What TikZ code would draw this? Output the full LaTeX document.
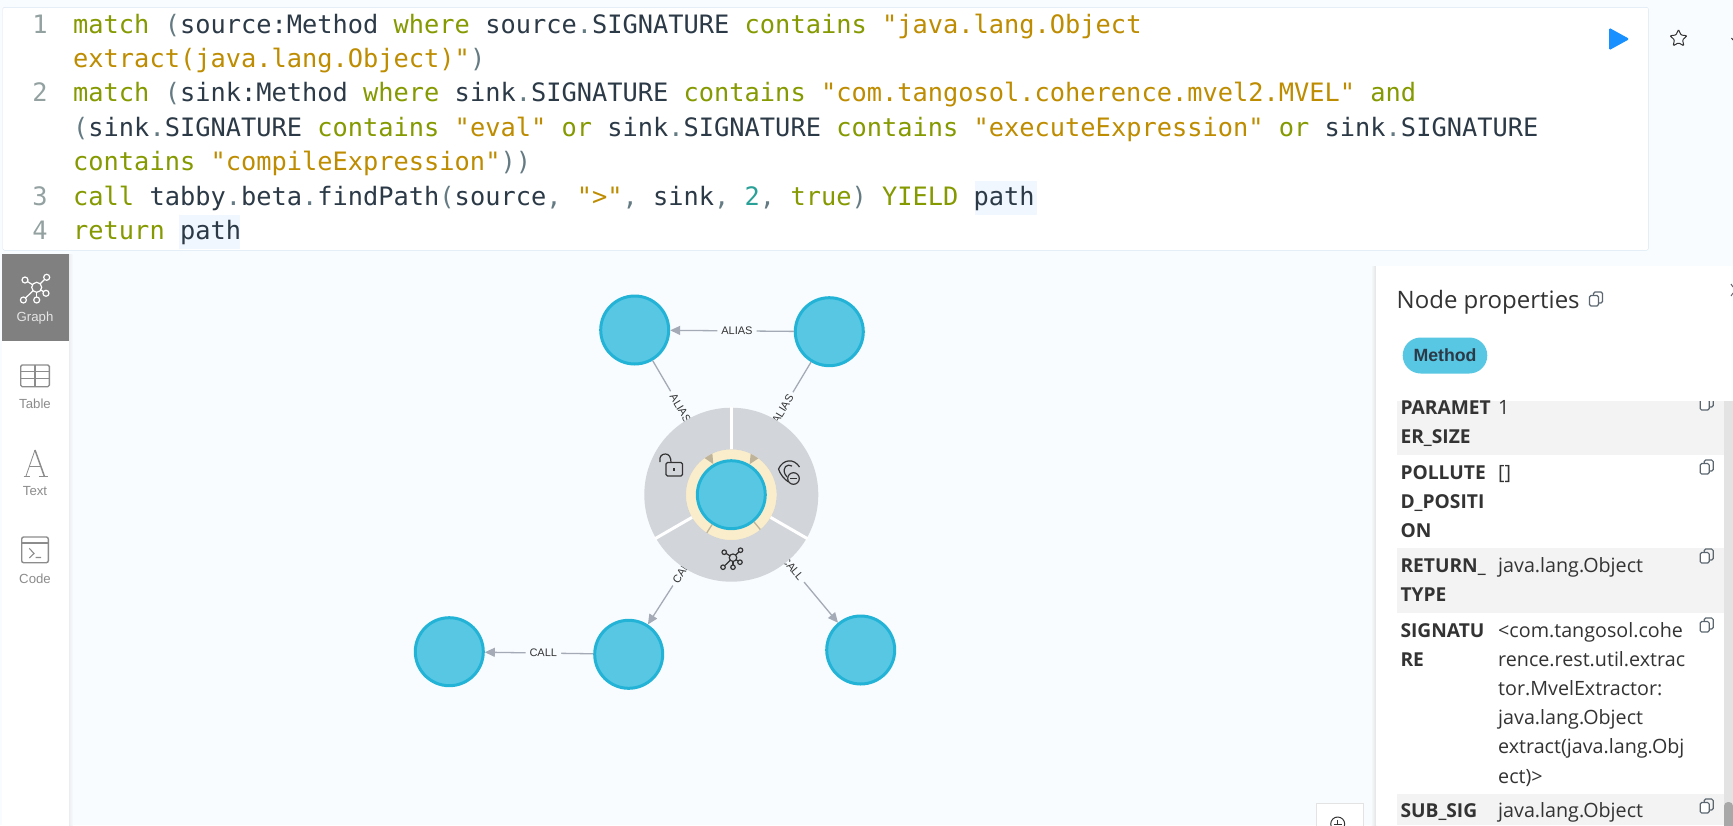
\documentclass[tikz,border=0pt]{standalone}
\usepackage{fontspec}
\usetikzlibrary{arrows.meta,calc,shapes.geometric}
\setmainfont{Liberation Sans}
\newfontfamily\codefont{DejaVu Sans Mono}
\newfontfamily\panelfont{Open Sans}
\definecolor{canvas}{HTML}{F8FCFF}
\definecolor{codekw}{HTML}{859900}
\definecolor{codestr}{HTML}{BE8C00}
\definecolor{codenum}{HTML}{2AA198}
\definecolor{codetxt}{HTML}{2C3A47}
\definecolor{codepun}{HTML}{657B83}
\definecolor{linenum}{HTML}{93A1A1}
\definecolor{hilite}{HTML}{F1F7FE}
\definecolor{boxline}{HTML}{D9E6F2}
\definecolor{playblue}{HTML}{1890FF}
\definecolor{nodefill}{HTML}{57C7E3}
\definecolor{nodeline}{HTML}{23B3D7}
\definecolor{edgegrey}{HTML}{A5ABB6}
\definecolor{wheelgrey}{HTML}{D2D5DA}
\definecolor{halo}{HTML}{FDCC59}
\definecolor{sidegrey}{HTML}{8C8C8C}
\definecolor{tilegrey}{HTML}{808080}
\definecolor{rowgrey}{HTML}{F3F3F3}
\definecolor{trackgrey}{HTML}{E3E3E3}
\definecolor{thumbgrey}{HTML}{A8A8A8}
\definecolor{inkdark}{HTML}{333333}
\definecolor{iconslate}{HTML}{5B6670}
\newcommand\ckw[1]{\textcolor{codekw}{#1}}
\newcommand\cstr[1]{\textcolor{codestr}{#1}}
\newcommand\cnum[1]{\textcolor{codenum}{#1}}
\newcommand\cpun[1]{\textcolor{codepun}{#1}}
\tikzset{
    codeline/.style={anchor=base west,inner sep=0pt,text=codetxt,font=\codefont\fontsize{25.35}{30}\selectfont},
    codeno/.style={anchor=base,inner sep=0pt,text=linenum,font=\codefont\fontsize{25.35}{30}\selectfont},
    graphnode/.style={circle,draw=nodeline,fill=nodefill,line width=3pt,minimum size=68pt,inner sep=0pt},
    graphedge/.style={draw=edgegrey,line width=1.3pt,-{Triangle[length=10pt,width=9pt]}},
    edgelabel/.style={sloped,pos=0.46,fill=canvas,text=inkdark,inner xsep=4pt,inner ysep=1pt,font=\fontsize{11}{13}\selectfont},
    sidelabel/.style={inner sep=0pt,text=sidegrey,font=\fontsize{13.2}{15}\selectfont},
    sideicon/.style={draw=sidegrey,line width=1.4pt},
    keytext/.style={anchor=base west,inner sep=0pt,text=inkdark,font=\panelfont\bfseries\fontsize{19.2}{22}\selectfont},
    valtext/.style={anchor=base west,inner sep=0pt,text=inkdark,font=\panelfont\fontsize{19.7}{22}\selectfont},
    wheelicon/.style={draw=inkdark,line width=1.2pt},
    pics/copyicon/.style={code={
        \draw[iconslate,line width=1.1pt,rounded corners=1.5pt] (-2.5,-7) rectangle (6.5,4);
        \draw[iconslate,line width=1.1pt,fill=white,rounded corners=1.5pt] (-6.5,-3.5) rectangle (2.5,7);
    }},
    pics/graphicon/.style 2 args={code={
        \foreach \px/\py in {-11.7/-7.3,10/-10,-13.3/12.7,0/12.7,9.3/6}{
            \draw[line width=1.2pt,#1] (0,0) -- (\px,\py);
            \draw[line width=1.2pt,#1,fill=#2] (\px,\py) circle[radius=3];
        }
        \draw[line width=1.2pt,#1,fill=#2] (0,0) circle[radius=5];
    }}
}
\begin{document}
\begin{tikzpicture}[x=1pt,y=-1pt]
    \useasboundingbox (0,0) rectangle (1733,825);
    \clip (0,0) rectangle (1733,825);
    \fill[canvas] (0,0) rectangle (1733,825);
    % query editor
    \draw[boxline,fill=white,rounded corners=2pt] (2.7,7.3) rectangle (1648.4,250.3);
    \fill[hilite] (975,181) rectangle (1037,214.7);
    \fill[hilite] (178.8,215) rectangle (240,249);
    \foreach \t/\y [count=\i] in {1/33,2/101.7,3/205,4/239.5}
        \node[codeno] (no\i) at (40,\y) {\t};
    \node[codeline] (line1) at (73,33) {\ckw{match} \cpun{(}source:Method \ckw{where} source\cpun{.}SIGNATURE \ckw{contains} \cstr{"java.lang.Object}};
    \node[codeline] (line1b) at (73,67.3) {\cstr{extract(java.lang.Object)"}\cpun{)}};
    \node[codeline] (line2) at (73,101.7) {\ckw{match} \cpun{(}sink:Method \ckw{where} sink\cpun{.}SIGNATURE \ckw{contains} \cstr{"com.tangosol.coherence.mvel2.MVEL"} \ckw{and}};
    \node[codeline] (line2b) at (73,136) {\cpun{(}sink\cpun{.}SIGNATURE \ckw{contains} \cstr{"eval"} \ckw{or} sink\cpun{.}SIGNATURE \ckw{contains} \cstr{"executeExpression"} \ckw{or} sink\cpun{.}SIGNATURE};
    \node[codeline] (line2c) at (73,170.5) {\ckw{contains} \cstr{"compileExpression"}\cpun{))}};
    \node[codeline] (line3) at (73,205) {\ckw{call} tabby\cpun{.}beta\cpun{.}findPath\cpun{(}source\cpun{,} \cstr{">"}\cpun{,} sink\cpun{,} \cnum{2}\cpun{,} \ckw{true}\cpun{)} \ckw{YIELD} path};
    \node[codeline] (line4) at (73,239.5) {\ckw{return} path};
    \fill[playblue,rounded corners=1.5pt] (1609,27.7) -- (1629.5,39) -- (1609,50.3) -- cycle;
    \node[star,star points=5,star point ratio=2.1,draw=inkdark,line width=1pt,minimum size=18pt,inner sep=0pt,rounded corners=1pt] (fav) at (1678.5,38.5) {};
    \draw[inkdark,line width=1pt] (1731.5,38) -- (1733,40);
    % side bar
    \shade[left color=trackgrey!60!canvas,right color=canvas] (69,254) rectangle (73,825);
    \fill[white] (2,254) rectangle (69,825);
    \fill[tilegrey] (2,254) rectangle (69,340.7);
    \pic at (36.7,287.3) {graphicon={white}{tilegrey}};
    \node[sidelabel,text=white!90!black] (tabgraph) at (35,317.7) {Graph};
    \draw[sideicon,rounded corners=1.5pt] (20.7,365) rectangle (49.3,386.7);
    \draw[sideicon] (20.7,371.5) -- (49.3,371.5) (20.7,378.5) -- (49.3,378.5) (35,365) -- (35,386.7);
    \node[sidelabel] (tabtable) at (35,404) {Table};
    \draw[sidegrey,line width=.8pt] (26,476) -- (35,450);
    \draw[sidegrey,line width=1.5pt] (35,450) -- (44.3,476);
    \draw[sidegrey,line width=.8pt] (29,466.5) -- (41,466.5) (23.5,476) -- (30,476) (38.5,476) -- (47.5,476);
    \node[sidelabel] (tabtext) at (35,490.7) {Text};
    \draw[sideicon,rounded corners=2pt] (21.7,537) rectangle (48.3,562.7);
    \draw[sideicon] (21.7,543) -- (48.3,543);
    \draw[sideicon,line width=1.1pt] (29.3,548.3) -- (34,553.5) -- (29.3,558) (35.5,557.5) -- (41,557.5);
    \node[sidelabel] (tabcode) at (35,578.7) {Code};
    % graph
    \node[graphnode] (mTopL) at (634.7,330) {};
    \node[graphnode] (mTopR) at (829.3,331.7) {};
    \node[graphnode] (mCenter) at (731.3,494.7) {};
    \node[graphnode] (mLowL) at (449.3,651.7) {};
    \node[graphnode] (mLowM) at (628.7,654.3) {};
    \node[graphnode] (mLowR) at (860.7,650) {};
    \draw[graphedge] (mTopR) -- node[edgelabel] (lab1) {ALIAS} (mTopL);
    \draw[graphedge] (mTopL) -- node[edgelabel] (lab2) {ALIAS} (mCenter);
    \draw[graphedge] (mTopR) -- node[edgelabel] (lab3) {ALIAS} (mCenter);
    \draw[graphedge] (mCenter) -- node[edgelabel] (lab4) {CALL} (mLowM);
    \draw[graphedge] (mCenter) -- node[edgelabel] (lab5) {CALL} (mLowR);
    \draw[graphedge] (mLowM) -- node[edgelabel] (lab6) {CALL} (mLowL);
    % wheel hides the edges, the halo lets them through
    \fill[wheelgrey,even odd rule] (mCenter.center) circle[radius=87] (mCenter.center) circle[radius=45.3];
    \fill[halo,opacity=.3,even odd rule] (mCenter.center) circle[radius=45.3] (mCenter.center) circle[radius=35.5];
    \foreach \a in {90,210,330}
        \draw[white,line width=3pt] ($(mCenter.center)+(\a:45.3pt)$) -- ($(mCenter.center)+(\a:88pt)$);
    % lock
    \draw[wheelicon] (660,462) .. controls (659,456) and (662,454) .. (665.5,454) .. controls (669,454) and (671,457) .. (671,462.5);
    \draw[wheelicon,rounded corners=1.5pt] (666,462.5) rectangle (682.5,476);
    \draw[wheelicon] (674,468) -- (674,471);
    % hide
    \draw[wheelicon] (799.5,467) .. controls (794,458) and (783,459) .. (778.5,469) .. controls (780,474) and (784,479) .. (788.5,482);
    \draw[wheelicon] (792,466) .. controls (787,463) and (782,468) .. (785,474) -- (787,477);
    \draw[wheelicon] (793.5,478.5) circle[radius=5.8];
    \draw[wheelicon] (790,478.5) -- (797,478.5);
    \pic[scale=.75] at (733,557.7) {graphicon={inkdark}{wheelgrey}};
    % properties panel
    \shade[left color=canvas,right color=trackgrey] (1371,266) rectangle (1376,825);
    \fill[white] (1376,266) rectangle (1733,825);
    \node[anchor=base west,inner sep=0pt,text=inkdark,font=\panelfont\fontsize{24}{28}\selectfont] (proptitle) at (1396.5,308.5) {Node properties};
    \pic at (1596,299) {copyicon};
    \draw[iconslate,line width=1pt] (1731,284) -- (1733,287) (1733,293) -- (1731,296);
    \node[fill=nodefill,rounded corners=18pt,minimum width=84.6pt,minimum height=36pt,inner sep=0pt,text=codetxt,font=\bfseries\fontsize{17.7}{20}\selectfont] (methodtag) at (1445,355.5) {Method};
    % rows
    \fill[rowgrey] (1397,401) rectangle (1724,455);
    \fill[rowgrey] (1397,548) rectangle (1724,612.7);
    \fill[rowgrey] (1397,794) rectangle (1724,825);
    \fill[trackgrey] (1724,401) rectangle (1733,825);
    \fill[thumbgrey,rounded corners=4pt] (1724,802) rectangle (1733,835);
    \foreach \t/\y [count=\i] in {PARAMET/414,ER\_SIZE/443,POLLUTE/479,D\_POSITI/508.3,ON/537,RETURN\_/572.3,TYPE/601.7,SIGNATU/637,RE/666.3,SUB\_SIG/817.7}
        \node[keytext] (key\i) at (1400.3,\y) {\t};
    \foreach \t/\y [count=\i] in {1/414,{[]}/479,java.lang.Object/572.3,{<com.tangosol.cohe}/637,rence.rest.util.extrac/666.3,tor.MvelExtractor:/695,java.lang.Object/724.7,extract(java.lang.Obj/753.7,{ect)>}/783,java.lang.Object/817.7}
        \node[valtext] (val\i) at (1498,\y) {\t};
    \begin{scope}
        \clip (1397,401) rectangle (1724,825);
        \foreach \y in {403,467,556,625,806}
            \pic at (1706.7,\y) {copyicon};
    \end{scope}
    % zoom button
    \draw[trackgrey,fill=white] (1315.7,803.3) rectangle (1363.3,830);
    \draw[inkdark,line width=1pt] (1337.7,824) circle[radius=7];
    \draw[inkdark,line width=1pt] (1333.7,824) -- (1341.7,824) (1337.7,820) -- (1337.7,825);
\end{tikzpicture}
\end{document}
